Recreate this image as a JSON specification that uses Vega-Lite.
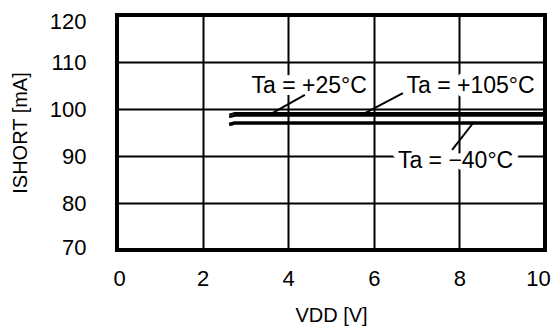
{
  "$schema": "https://vega.github.io/schema/vega-lite/v6.json",
  "autosize": {"type": "none"},
  "padding": {"left": 117, "top": 15, "right": 7, "bottom": 79},
  "width": 428,
  "height": 235,
  "background": "white",
  "config": {
    "font": "Liberation Sans",
    "view": {"stroke": "black", "strokeWidth": 4},
    "axis": {
      "grid": true,
      "gridColor": "black",
      "gridWidth": 2,
      "gridOpacity": 1,
      "domain": false,
      "ticks": false,
      "tickSize": 0,
      "labelColor": "black",
      "labelFont": "Liberation Sans",
      "labelFontSize": 22,
      "titleColor": "black",
      "titleFont": "Liberation Sans",
      "titleFontWeight": "normal",
      "titleFontSize": 20
    }
  },
  "datasets": {
    "curves": [
      {"series": "+25", "v": 2.62, "i": 98.8},
      {"series": "+25", "v": 2.75, "i": 99.15},
      {"series": "+25", "v": 10, "i": 99.15},
      {"series": "+105", "v": 2.62, "i": 98.3},
      {"series": "+105", "v": 2.75, "i": 98.62},
      {"series": "+105", "v": 10, "i": 98.62},
      {"series": "-40", "v": 2.62, "i": 96.7},
      {"series": "-40", "v": 2.75, "i": 97.02},
      {"series": "-40", "v": 10, "i": 97.02}
    ],
    "labels": [
      {"label": "Ta = +25°C", "x": 4.49, "y": 104.9},
      {"label": "Ta = +105°C", "x": 8.26, "y": 104.9},
      {"label": "Ta = −40°C", "x": 7.91, "y": 88.94}
    ],
    "leaders": [
      {"x": 3.64, "y": 99.15, "x2": 4.39, "y2": 102.98},
      {"x": 5.75, "y": 98.9, "x2": 6.68, "y2": 103.4},
      {"x": 8.32, "y": 97.02, "x2": 7.83, "y2": 91.28}
    ]
  },
  "layer": [
    {
      "data": {"name": "labels"},
      "mark": {"type": "text", "fontSize": 23, "font": "Liberation Sans", "stroke": "white", "strokeWidth": 12, "strokeJoin": "round", "fill": "white", "baseline": "middle", "align": "center"},
      "encoding": {
        "x": {"field": "x", "type": "quantitative", "scale": {"domain": [0, 10], "nice": false, "zero": false},
          "axis": {"values": [0, 2, 4, 6, 8, 10], "title": "VDD [V]", "labelPadding": 18, "titlePadding": 16, "labelFlush": false,
            "labelOffset": {"expr": "datum.value == 10 ? -7 : datum.value == 0 ? 2 : 0"}}},
        "y": {"field": "y", "type": "quantitative", "scale": {"domain": [70, 120], "nice": false, "zero": false},
          "axis": {"values": [70, 80, 90, 100, 110, 120], "title": "ISHORT [mA]", "labelPadding": 31, "titlePadding": 19,
            "labelOffset": {"expr": "datum.value == 120 ? 6 : datum.value == 70 ? -3 : 0"}}},
        "text": {"field": "label"}
      }
    },
    {
      "data": {"name": "curves"},
      "mark": {"type": "line", "color": "black", "strokeCap": "butt"},
      "encoding": {
        "x": {"field": "v", "type": "quantitative"},
        "y": {"field": "i", "type": "quantitative"},
        "detail": {"field": "series"},
        "strokeWidth": {"field": "series", "type": "ordinal", "scale": {"domain": ["+25", "+105", "-40"], "range": [2, 3.5, 3.5]}, "legend": null}
      }
    },
    {
      "data": {"name": "leaders"},
      "mark": {"type": "rule", "color": "black", "strokeWidth": 2},
      "encoding": {
        "x": {"field": "x", "type": "quantitative"},
        "y": {"field": "y", "type": "quantitative"},
        "x2": {"field": "x2"},
        "y2": {"field": "y2"}
      }
    },
    {
      "data": {"name": "labels"},
      "mark": {"type": "text", "fontSize": 23, "font": "Liberation Sans", "color": "black", "baseline": "middle", "align": "center"},
      "encoding": {
        "x": {"field": "x", "type": "quantitative"},
        "y": {"field": "y", "type": "quantitative"},
        "text": {"field": "label"}
      }
    }
  ]
}
